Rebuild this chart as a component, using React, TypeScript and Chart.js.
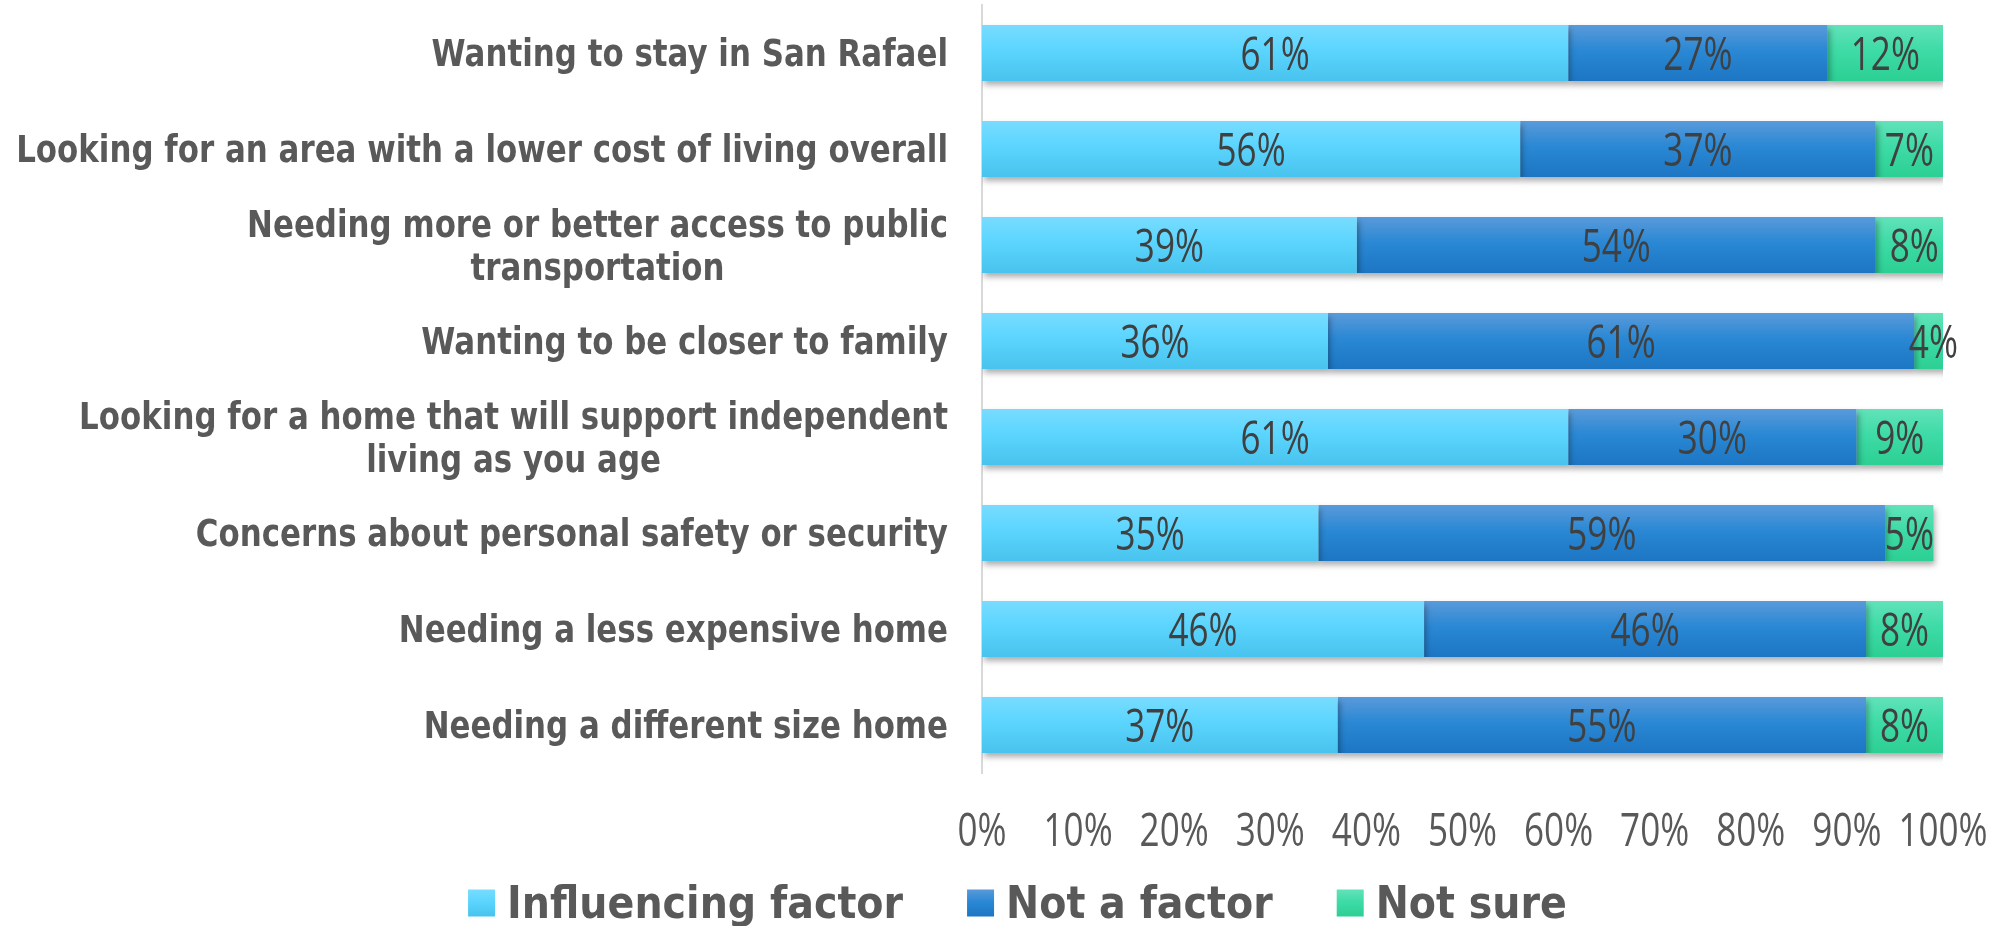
import React, { useEffect, useRef } from "react";
import { Chart, registerables } from "chart.js";

Chart.register(...registerables);

const categories: (string | string[])[] = [
  "Wanting to stay in San Rafael",
  "Looking for an area with a lower cost of living overall",
  ["Needing more or better access to public", "transportation"],
  "Wanting to be closer to family",
  ["Looking for a home that will support independent", "living as you age"],
  "Concerns about personal safety or security",
  "Needing a less expensive home",
  "Needing a different size home",
];
const influencingFactor = [61, 56, 39, 36, 61, 35, 46, 37];
const notAFactor = [27, 37, 54, 61, 30, 59, 46, 55];
const notSure = [12, 7, 8, 4, 9, 5, 8, 8];
const seriesNames = ["Influencing factor", "Not a factor", "Not sure"];

const gradientStops = [
  ["#78DCFF", "#5BD5FE", "#48C3ED"],
  ["#5A9ADA", "#2A88D4", "#1C76C4"],
  ["#62E2BA", "#3EDBA6", "#2CCF94"],
];

const BAR_PCT = 0.583;
const LABEL_SIZE = 37;
const LABEL_SX = 0.835;
const NUM_SIZE = 45;
const NUM_SX = 0.78;
const LEGEND_SIZE = 45;
const LEGEND_SX = 0.88;

function makeGradient(stops: string[]) {
  return (ctx: any) => {
    const chart = ctx.chart;
    const y = chart.scales && chart.scales.y;
    if (!y || !chart.chartArea || ctx.type !== "data") return stops[1];
    const yc = y.getPixelForValue(ctx.dataIndex);
    const band = Math.abs(y.getPixelForValue(1) - y.getPixelForValue(0));
    const half = (band * BAR_PCT) / 2;
    const g = chart.ctx.createLinearGradient(0, yc - half, 0, yc + half);
    g.addColorStop(0, stops[0]);
    g.addColorStop(0.45, stops[1]);
    g.addColorStop(1, stops[2]);
    return g;
  };
}

function drawText(
  c: CanvasRenderingContext2D,
  text: string,
  x: number,
  capCenterY: number,
  font: string,
  size: number,
  capRatio: number,
  sx: number,
  align: "left" | "center" | "right",
  color: string
) {
  c.save();
  c.font = font;
  c.fillStyle = color;
  c.textBaseline = "alphabetic";
  c.textAlign = "left";
  const w = c.measureText(text).width * sx;
  const left = align === "left" ? x : align === "center" ? x - w / 2 : x - w;
  c.translate(left, capCenterY + (capRatio * size) / 2);
  c.scale(sx, 1);
  c.fillText(text, 0, 0);
  c.restore();
  return w;
}

const shadowPlugin = {
  id: "barShadow",
  beforeDatasetsDraw(chart: any) {
    const c = chart.ctx;
    c.save();
    c.shadowColor = "rgba(0,0,0,0.32)";
    c.shadowBlur = 6;
    c.shadowOffsetX = 2;
    c.shadowOffsetY = 4;
  },
  afterDatasetsDraw(chart: any) {
    chart.ctx.restore();
  },
};

const textPlugin = {
  id: "customText",
  afterDraw(chart: any) {
    const c: CanvasRenderingContext2D = chart.ctx;
    const area = chart.chartArea;
    const yScale = chart.scales.y;
    const xScale = chart.scales.x;
    const labelFont = `bold ${LABEL_SIZE}px "DejaVu Sans"`;
    const numFont = `${NUM_SIZE}px "Open Sans"`;
    const legendFont = `bold ${LEGEND_SIZE}px "DejaVu Sans"`;

    // category labels
    const right = area.left - 34;
    const lineH = 43;
    (chart.data.labels as any[]).forEach((lab, i) => {
      const lines: string[] = Array.isArray(lab) ? lab : [lab];
      const yc = yScale.getPixelForValue(i);
      c.save();
      c.font = labelFont;
      const blockW = Math.max(...lines.map((l) => c.measureText(l).width * LABEL_SX));
      c.restore();
      lines.forEach((line, j) => {
        const ly = yc + (j - (lines.length - 1) / 2) * lineH;
        drawText(c, line, right - blockW / 2, ly, labelFont, LABEL_SIZE, 0.729, LABEL_SX, "center", "#595959");
      });
    });

    // x tick labels
    xScale.ticks.forEach((t: any, i: number) => {
      const px = xScale.getPixelForTick(i);
      drawText(c, String(t.label), px, area.bottom + 57, numFont, NUM_SIZE, 0.714, NUM_SX, "center", "#595959");
    });

    // data labels
    chart.data.datasets.forEach((ds: any, d: number) => {
      const meta = chart.getDatasetMeta(d);
      meta.data.forEach((bar: any, i: number) => {
        const p = bar.getProps(["x", "y", "base"], true);
        const cx = (p.x + p.base) / 2;
        drawText(c, ds.data[i] + "%", cx, p.y + 1, numFont, NUM_SIZE, 0.714, NUM_SX, "center", "#404040");
      });
    });

    // legend
    const box = 27;
    const gap = 12;
    const spacing = 64;
    c.save();
    c.font = legendFont;
    const widths = chart.data.datasets.map((ds: any) => c.measureText(ds.label).width * LEGEND_SX);
    c.restore();
    const total =
      widths.reduce((a: number, w: number) => a + box + gap + w, 0) + spacing * (widths.length - 1);
    let x = chart.width / 2 - total / 2 + 16;
    const ly = chart.height - 23;
    chart.data.datasets.forEach((ds: any, d: number) => {
      const stops = gradientStops[d];
      const g = c.createLinearGradient(0, ly - box / 2, 0, ly + box / 2);
      g.addColorStop(0, stops[0]);
      g.addColorStop(0.45, stops[1]);
      g.addColorStop(1, stops[2]);
      c.save();
      c.fillStyle = g;
      c.fillRect(x, ly - box / 2, box, box);
      c.restore();
      drawText(c, ds.label, x + box + gap, ly - 1, legendFont, LEGEND_SIZE, 0.729, LEGEND_SX, "left", "#595959");
      x += box + gap + widths[d] + spacing;
    });
  },
};

export default function App() {
  const ref = useRef<HTMLCanvasElement>(null);
  useEffect(() => {
    document.body.style.margin = "0";
    const canvas = ref.current!;
    const seriesData = [influencingFactor, notAFactor, notSure];
    const chart = new Chart(canvas, {
      type: "bar",
      data: {
        labels: categories as any,
        datasets: seriesData.map((arr, d) => ({
          label: seriesNames[d],
          data: arr,
          backgroundColor: makeGradient(gradientStops[d]) as any,
          borderWidth: 0,
          barPercentage: BAR_PCT,
          categoryPercentage: 1,
        })),
      },
      options: {
        indexAxis: "y",
        responsive: false,
        animation: false,
        devicePixelRatio: 1,
        layout: { padding: { top: 5, right: 60, left: 0, bottom: 0 } },
        plugins: {
          legend: { display: false },
          tooltip: { enabled: false },
        },
        scales: {
          x: {
            stacked: true,
            min: 0,
            max: 100,
            ticks: {
              display: false,
              stepSize: 10,
              callback: (v: any) => v + "%",
            },
            grid: { display: false, drawTicks: false },
            border: { display: false },
            afterFit: (s: any) => {
              s.height = 153;
            },
          },
          y: {
            stacked: true,
            ticks: { display: false },
            grid: { display: false, drawTicks: false },
            border: { display: true, color: "#D9D9D9", width: 2 },
            afterFit: (s: any) => {
              s.width = 982;
            },
          },
        },
      } as any,
      plugins: [shadowPlugin, textPlugin],
    });
    return () => chart.destroy();
  }, []);
  return (
    <div style={{ width: 2003, height: 926 }}>
      <canvas ref={ref} width={2003} height={926} style={{ display: "block" }} />
    </div>
  );
}
